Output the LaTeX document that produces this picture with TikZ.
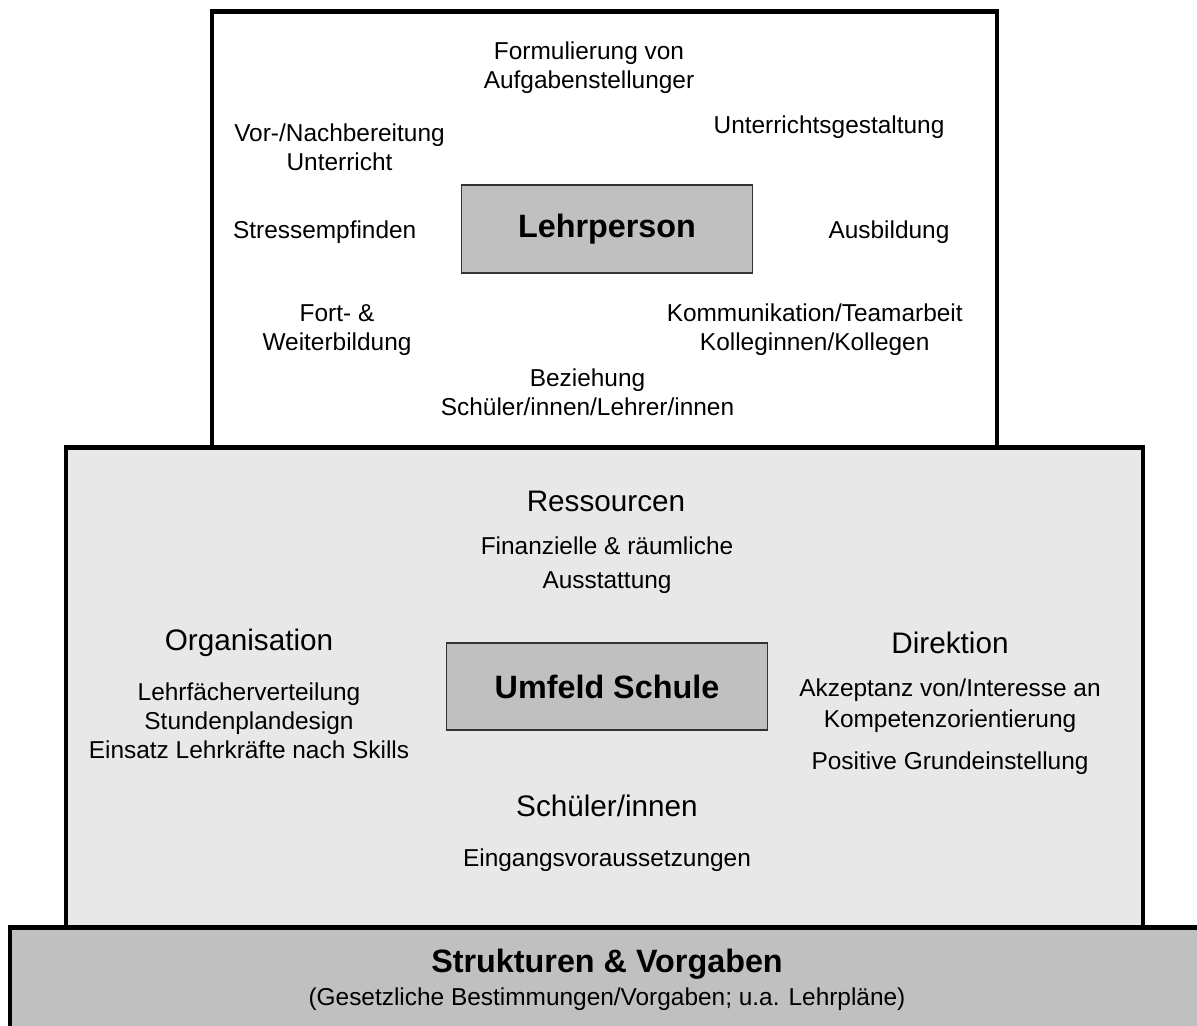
\documentclass[tikz,border=0pt]{standalone}
\usepackage{fontspec}
\setmainfont{Liberation Sans}
\usetikzlibrary{positioning}
\definecolor{hubgrey}{HTML}{C0C0C0}
\definecolor{ringgrey}{HTML}{E8E8E8}
\tikzset{lbl/.style={align=center,inner sep=0pt,font=\fontsize{13.9}{16.4}\selectfont}}
\tikzset{head/.style={align=center,inner sep=0pt,font=\fontsize{16.9}{20}\selectfont}}
\tikzset{hub/.style={draw=black!80,fill=hubgrey,line width=0.8pt,inner sep=0pt,font=\fontsize{18.4}{22}\bfseries\selectfont}}
\tikzset{layer/.style={draw=black,line width=2.5pt}}

\begin{document}
\begin{tikzpicture}[x=0.02cm,y=-0.02cm]
	\useasboundingbox (0,0) rectangle (1197,1026);
	\clip (0,0) rectangle (1197,1026);

	% the three layers
	\draw[layer,fill=white] (212,11.5) rectangle (997,447.5);
	\draw[layer,fill=ringgrey] (66,447.5) rectangle (1143,927.5);
	\draw[layer,fill=hubgrey] (10,927.5) rectangle (1230,1060);

	% Lehrperson
	\node[hub,minimum width=5.82cm,minimum height=1.76cm] (lp) at (607,229) {Lehrperson};
	\node[lbl] (aufg) at (589,67.5) {Formulierung von\\Aufgabenstellunger};
	\node[lbl] (vorb) at (339.5,147.5) {Vor-/Nachbereitung\\Unterricht};
	\node[lbl] (ugest) at (829,127) {Unterrichtsgestaltung};
	\node[lbl] (stress) at (324.7,232) {Stressempfinden};
	\node[lbl] (ausb) at (889,232) {Ausbildung};
	\node[lbl] (fort) at (337,330) {Fort- \&\\Weiterbildung};
	\node[lbl] (komm) at (814.7,330) {Kommunikation/Teamarbeit\\Kolleginnen/Kollegen};
	\node[lbl] (bez) at (587.5,392) {Beziehung\\Schüler/innen/Lehrer/innen};

	% Umfeld Schule
	\node[hub,minimum width=6.41cm,minimum height=1.74cm] (us) at (607,686.5) {Umfeld Schule};
	\node[head] (ress) at (606,501) {Ressourcen};
	\node[lbl] (fin) at (607,565) {Finanzielle \& räumliche\\[2.8pt]Ausstattung};
	\node[head] (orga) at (249,643) {Organisation};
	\node[lbl] (lfv) at (249,720.5) {Lehrfächerverteilung\\Stundenplandesign\\Einsatz Lehrkräfte nach Skills};
	\node[head] (dir) at (950,643) {Direktion};
	\node[lbl] (akz) at (950,705.7) {Akzeptanz von/Interesse an\\[0.8pt]Kompetenzorientierung};
	\node[lbl] (pos) at (950,762.7) {Positive Grundeinstellung};
	\node[head] (sus) at (607,805.7) {Schüler/innen};
	\node[lbl] (eing) at (607,860.4) {Eingangsvoraussetzungen};

	% Strukturen
	\node[inner sep=0pt,font=\fontsize{18.4}{22}\bfseries\selectfont] (struk) at (607,964) {Strukturen \& Vorgaben};
	\node[lbl] (gesetz) at (607,999) {(Gesetzliche Bestimmungen/Vorgaben; u.a. Lehrpläne)};
\end{tikzpicture}
\end{document}
